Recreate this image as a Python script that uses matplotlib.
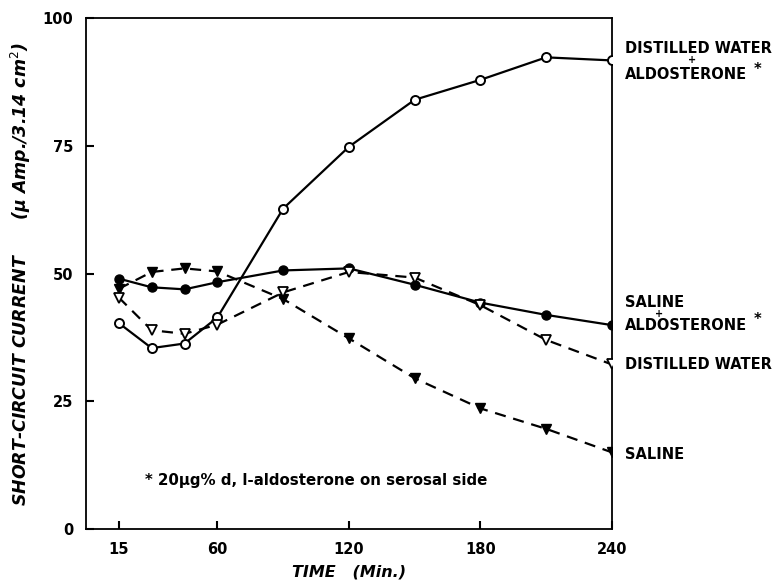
import matplotlib.pyplot as plt

# time points (min)
time = [15, 30, 45, 60, 90, 120, 150, 180, 210, 240]

# short-circuit current, uAmp / 3.14 cm2
dw_aldo = [40.3, 35.4, 36.3, 41.4, 62.7, 74.8, 84.0, 87.9, 92.3, 91.7]
saline_aldo = [49.0, 47.3, 46.9, 48.3, 50.6, 51.0, 47.8, 44.3, 41.9, 39.9]
saline = [47.0, 50.3, 51.0, 50.4, 45.0, 37.3, 29.5, 23.6, 19.6, 15.0]
distilled = [45.3, 38.9, 38.2, 40.0, 46.3, 50.3, 49.2, 43.8, 37.0, 32.2]

xticks = [15, 60, 120, 180, 240]
yticks = [0, 25, 50, 75, 100]

fig = plt.figure(figsize=(7.81, 5.81), dpi=100)
ax = fig.add_axes([0.110, 0.0895, 0.6735, 0.8795])

lw = 1.6
dash = (0, (5, 3.5))
ax.plot(time, dw_aldo, color='black', lw=lw, marker='o', ms=6.5,
        mfc='white', mec='black', mew=1.4, zorder=3)
ax.plot(time, saline_aldo, color='black', lw=lw, marker='o', ms=6.5,
        mfc='black', mec='black', zorder=3)
ax.plot(time, saline, color='black', lw=lw, ls=dash, marker='v', ms=7,
        mfc='black', mec='black', zorder=3)
ax.plot(time, distilled, color='black', lw=lw, ls=dash, marker='v', ms=7,
        mfc='white', mec='black', mew=1.3, zorder=3)

ax.set_xlim(0, 240)
ax.set_ylim(0, 100)
ax.set_xticks(xticks)
ax.set_yticks(yticks)
ax.tick_params(direction='in', length=6, width=1.5, pad=9,
               labelsize=10.5)
for lab in ax.get_xticklabels() + ax.get_yticklabels():
    lab.set_fontweight('bold')
for s in ax.spines.values():
    s.set_linewidth(1.3)

ax.set_xlabel('TIME   (Min.)', fontsize=11.5, fontweight='bold',
              style='italic', labelpad=6)
ax.set_ylabel('SHORT-CIRCUIT CURRENT      (\u03bc Amp./3.14 cm$^2$)',
              fontsize=12.5, fontweight='bold', style='italic', labelpad=7)

# series labels on the right
tr = ax.get_yaxis_transform()
kw = dict(transform=tr, fontsize=10.5, fontweight='bold', va='center',
          ha='left', clip_on=False)
ax.text(1.025, 94.1, 'DISTILLED WATER', **kw)
ax.text(1.152, 91.8, '+', transform=tr, fontsize=7, fontweight='bold',
        ha='center', va='center')
ax.text(1.025, 89.0, 'ALDOSTERONE', **kw)
ax.text(1.27, 90.0, '*', **kw)
ax.text(1.025, 44.4, 'SALINE', **kw)
ax.text(1.09, 42.1, '+', transform=tr, fontsize=7, fontweight='bold',
        ha='center', va='center')
ax.text(1.025, 39.9, 'ALDOSTERONE', **kw)
ax.text(1.27, 41.0, '*', **kw)
ax.text(1.025, 32.1, 'DISTILLED WATER', **kw)
ax.text(1.025, 14.5, 'SALINE', **kw)

ax.text(27, 9.5, '* 20\u03bcg% d, l-aldosterone on serosal side',
        fontsize=10.8, fontweight='bold', va='center', ha='left')

fig.savefig('out.png', dpi=100)
